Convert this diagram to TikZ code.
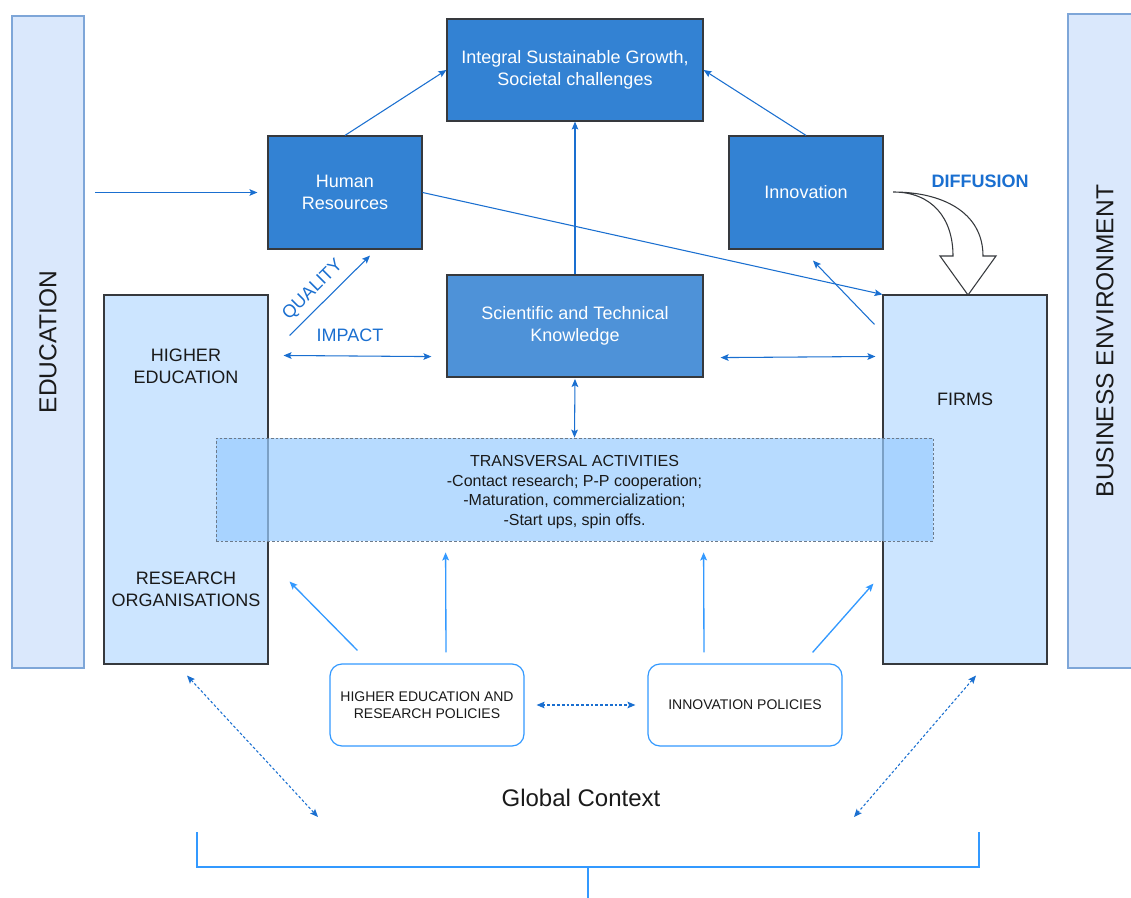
\documentclass[tikz,border=0pt]{standalone}
\usepackage{fontspec}
\setmainfont{Liberation Sans}
\usetikzlibrary{arrows.meta,calc}
\definecolor{darkbox}{RGB}{51,130,211}
\definecolor{scibox}{RGB}{78,146,216}
\definecolor{lightbox}{HTML}{CCE5FF}
\definecolor{envfill}{HTML}{DAE8FC}
\definecolor{envdraw}{HTML}{7EA6D8}
\definecolor{boxline}{HTML}{36393D}
\definecolor{arrblue}{HTML}{1A6FD0}
\definecolor{polblue}{HTML}{3399FF}
\definecolor{transfill}{HTML}{99CCFF}
\definecolor{transline}{HTML}{6C7A8A}
\definecolor{txtdark}{HTML}{1A1A1A}
\begin{document}
\begin{tikzpicture}[x=0.75pt,y=-0.75pt,
  tip/.tip={Stealth[length=6pt,width=5pt,inset=1.2pt]},
  bluebox/.style={draw=boxline,line width=0.9pt,fill=darkbox,text=white,inner sep=0pt,align=center,
    font=\fontsize{13.5}{16.5}\selectfont},
  lightbx/.style={draw=boxline,line width=0.8pt,fill=lightbox,inner sep=0pt},
  envbox/.style={draw=envdraw,line width=0.8pt,fill=envfill,inner sep=0pt},
  polbox/.style={draw=polblue,line width=0.9pt,fill=white,rounded corners=9pt,align=center,text=txtdark,
    inner sep=0pt,font=\fontsize{10.5}{12.75}\selectfont},
  boxtext/.style={align=center,text=txtdark,font=\fontsize{13.5}{16.5}\selectfont},
  bigtext/.style={text=txtdark,font=\fontsize{18.4}{22}\selectfont},
  lbl/.style={text=arrblue,font=\fontsize{13.5}{16}\selectfont},
  arr/.style={draw=arrblue,line width=0.8pt,-tip},
  darr/.style={draw=arrblue,line width=0.8pt,tip-tip},
  polarr/.style={draw=polblue,line width=1pt,-tip},
  dotarr/.style={draw=arrblue,line width=0.8pt,dash pattern=on 2pt off 1.6pt,tip-tip},
  bracket/.style={draw=polblue,line width=1.5pt}
]
\useasboundingbox (0,0) rectangle (1131,898);

% environment columns
\node[envbox,minimum width=54pt,minimum height=489pt] (edu) at (48,342) {};
\node[bigtext,rotate=90] at (edu) {EDUCATION};
\node[envbox,minimum width=54pt,minimum height=490.5pt] (bus) at (1104,341) {};
\node[bigtext,rotate=90] at (1105,341) {BUSINESS ENVIRONMENT};

% top blue boxes
\node[bluebox,minimum width=192pt,minimum height=76.5pt] (integ) at (575,70)
  {Integral Sustainable Growth,\\Societal challenges};
\node[bluebox,minimum width=115.5pt,minimum height=84.75pt] (hr) at (345,192.5)
  {Human\\Resources};
\node[bluebox,minimum width=115.5pt,minimum height=84.75pt] (inno) at (806,192.5)
  {Innovation};
\node[bluebox,fill=scibox,minimum width=192pt,minimum height=76.5pt] (sci) at (575,326)
  {Scientific and Technical\\Knowledge};

% actor columns
\node[lightbx,minimum width=123pt,minimum height=276.75pt] (heb) at (186,479.5) {};
\node[boxtext] at ($(heb.north)+(0,72)$) {HIGHER\\EDUCATION};
\node[boxtext] at ($(heb.north)+(0,295)$) {RESEARCH\\ORGANISATIONS};
\node[lightbx,minimum width=123pt,minimum height=276.75pt] (firms) at (965,479.5) {};
\node[boxtext] at ($(firms.north)+(0,105)$) {FIRMS};

% transversal activities
\node[draw=transline,line width=0.6pt,dash pattern=on 2pt off 1.5pt,fill=transfill,fill opacity=0.7,
  minimum width=537.75pt,minimum height=77.25pt,inner sep=0pt] (trans) at (574.5,489.5) {};
\node[align=center,text=txtdark,font=\fontsize{12}{14.6}\selectfont] at ($(trans.center)+(0,2.5)$)
  {TRANSVERSAL ACTIVITIES\\-Contact research; P-P cooperation;\\-Maturation, commercialization;\\-Start ups, spin offs.};

% policies
\node[polbox,minimum width=145.5pt,minimum height=61.5pt] (hepol) at (427,705)
  {HIGHER EDUCATION AND\\RESEARCH POLICIES};
\node[polbox,minimum width=145.5pt,minimum height=61.5pt] (innopol) at (745,705)
  {INNOVATION POLICIES};

% global context
\node[font=\fontsize{18}{22}\selectfont,text=txtdark] (glob) at (581,798) {Global Context};
\coordinate (gl) at (318,817);
\coordinate (gr) at (854,817);
\coordinate (b1) at (197,832);
\coordinate (b2) at (979,832);
\coordinate (bm) at (588,867);
\coordinate (bs) at (588,898);
\draw[bracket] (b1) -- (b1 |- bm) -- (b2 |- bm) -- (b2);
\draw[bracket] (bm) -- (bs);

% connectors
\draw[arr,shorten <=8pt,shorten >=7.5pt] (edu.east |- hr.west) -- (hr.west);
\draw[arr] (hr.north) -- (integ.west);
\draw[arr] (inno.north) -- (integ.east);
\draw[arr] (sci.north) -- (integ.south);
\draw[arr] (hr.east) -- (firms.north west);
\draw[arr] ($(firms.north west)+(-8,30)$) -- ($(inno.south)+(7,11)$);
\draw[arr] ($(heb.north east)+(21,41)$) -- ($(hr.south)+(25,6)$);
\draw[darr] ($(heb.north east)+(15,61)$) -- ($(sci.south west)+(-15,-21)$);
\draw[darr] ($(sci.south east)+(17,-20)$) -- ($(firms.north west)+(-7,62)$);
\draw[darr,shorten <=1pt] (sci.south) -- (trans.north);
\draw[polarr] ($(hepol.north west)+(28,-13)$) -- ($(heb.south east)+(21,-83)$);
\draw[polarr] ($(hepol.north)+(19,-11)$) -- ($(trans.south west)+(230,11)$);
\draw[polarr] ($(innopol.north)+(-41,-11)$) -- ($(trans.south west)+(488,11)$);
\draw[polarr] ($(innopol.north east)+(-30,-11)$) -- ($(firms.south west)+(-9,-81)$);
\draw[dotarr] ($(hepol.east)+(12,0)$) -- ($(innopol.west)+(-12,0)$);
\draw[dotarr] ($(heb.south)+(1,11)$) -- (gl);
\draw[dotarr] ($(firms.south)+(11,11)$) -- (gr);

% labels
\node[lbl,rotate=45] at (313,290) {QUALITY};
\node[lbl] at (350,335) {IMPACT};
\node[text=arrblue,font=\bfseries\fontsize{13.5}{16}\selectfont] at (980,181) {DIFFUSION};

% diffusion block arrow
\draw[draw=boxline,line width=0.8pt,fill=white,line join=miter]
  (893,192) .. controls (932,192) and (953,218) .. (953,256) -- (940,256) -- (968,295)
  -- (996,256) -- (983,256) .. controls (983,212) and (942,192) .. (893,192) -- cycle;
\end{tikzpicture}
\end{document}
